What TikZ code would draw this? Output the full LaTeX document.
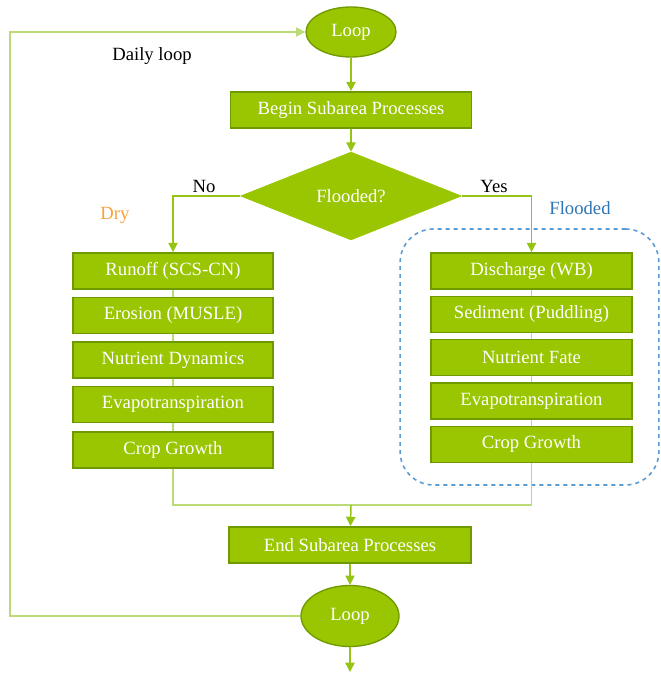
\documentclass[tikz,border=0pt]{standalone}
\usepackage{fontspec}
\setmainfont{Liberation Serif}
\usetikzlibrary{shapes.geometric,arrows.meta}

\definecolor{boxgreen}{HTML}{99C600}
\definecolor{edgegreen}{HTML}{6E9A00}
\definecolor{linegreen}{HTML}{96C414}
\definecolor{palegreen}{HTML}{BADB78}
\definecolor{zoneblue}{HTML}{5B9BD5}
\definecolor{labelblue}{HTML}{2E75B6}
\definecolor{dryorange}{HTML}{F7A139}

\begin{document}
\begin{tikzpicture}[x=0.75pt, y=-0.75pt,
        every node/.style={font=\fontsize{14pt}{16pt}\selectfont},
        procbox/.style={rectangle, draw=edgegreen, line width=1.3pt, fill=boxgreen, text=white, minimum height=27pt, inner sep=2pt},
        loopnode/.style={ellipse, draw=edgegreen, line width=1pt, fill=boxgreen, text=white, inner sep=0pt},
        arrow/.style={draw=linegreen, line width=1.1pt, -{Triangle[length=7pt, width=7pt]}},
        joint/.style={draw=palegreen, line width=1pt},
        thin/.style={draw=palegreen, line width=0.8pt}]
        \useasboundingbox (0,0) rectangle (660,673);

        \node[draw=zoneblue, dashed, line width=1.2pt, rounded corners=25pt, minimum width=194pt, minimum height=192pt] (zone) at (529.5,357) {};

        \node[loopnode, minimum width=67.5pt, minimum height=37.5pt] (loopT) at (351,32) {Loop};
        \node[procbox, minimum width=180.75pt] (begin) at (351,110) {Begin Subarea Processes};
        \node[diamond, fill=boxgreen, draw=boxgreen, text=white, inner sep=0pt, minimum width=165.75pt, minimum height=66pt] (flood) at (351,196) {Flooded?};

        \node[procbox, minimum width=150pt] (dry1) at (173,271) {Runoff (SCS-CN)};
        \node[procbox, minimum width=150pt] (dry2) at (173,315.5) {Erosion (MUSLE)};
        \node[procbox, minimum width=150pt] (dry3) at (173,360) {Nutrient Dynamics};
        \node[procbox, minimum width=150pt] (dry4) at (173,404.5) {Evapotranspiration};
        \node[procbox, minimum width=150pt] (dry5) at (173,450) {Crop Growth};

        \node[procbox, minimum width=150.75pt] (wet1) at (531.5,271) {Discharge (WB)};
        \node[procbox, minimum width=150.75pt] (wet2) at (531.5,314.5) {Sediment (Puddling)};
        \node[procbox, minimum width=150.75pt] (wet3) at (531.5,357.5) {Nutrient Fate};
        \node[procbox, minimum width=150.75pt] (wet4) at (531.5,401) {Evapotranspiration};
        \node[procbox, minimum width=150.75pt] (wet5) at (531.5,444.5) {Crop Growth};

        \node[procbox, minimum width=182pt] (end) at (350,545) {End Subarea Processes};
        \node[loopnode, minimum width=73.5pt, minimum height=45.75pt] (loopB) at (350,616) {Loop};

        \node (daily) at (152,56) {Daily loop};
        \node (no) at (204,186) {No};
        \node (yes) at (494,186) {Yes};
        \node[text=dryorange] (dry) at (115,215) {Dry};
        \node[text=labelblue] (wet) at (580,208) {Flooded};

        \coordinate (merge) at (351,505);
        \coordinate (corner) at (10,616);
        \coordinate (exit) at (350,672);

        \draw[arrow] (loopT) -- (begin);
        \draw[arrow] (begin) -- (flood);
        \draw[arrow] (flood.west) -| (dry1.north);
        \draw[arrow] (flood.east) -| (wet1.north);
        \foreach \a/\b in {1/2,2/3,3/4,4/5} {
                \draw[thin] (dry\a) -- (dry\b);
                \draw[thin] (wet\a) -- (wet\b);
        }
        \draw[joint] (dry5.south) |- (merge);
        \draw[joint] (wet5.south) |- (merge);
        \draw[arrow] (merge) -- (end);
        \draw[arrow] (end) -- (loopB);
        \draw[arrow] (loopB) -- (exit);
        \draw[joint, -{Triangle[length=7pt, width=7pt]}] (loopB.west) -- (corner) |- (loopT.west);
    \end{tikzpicture}
\end{document}
